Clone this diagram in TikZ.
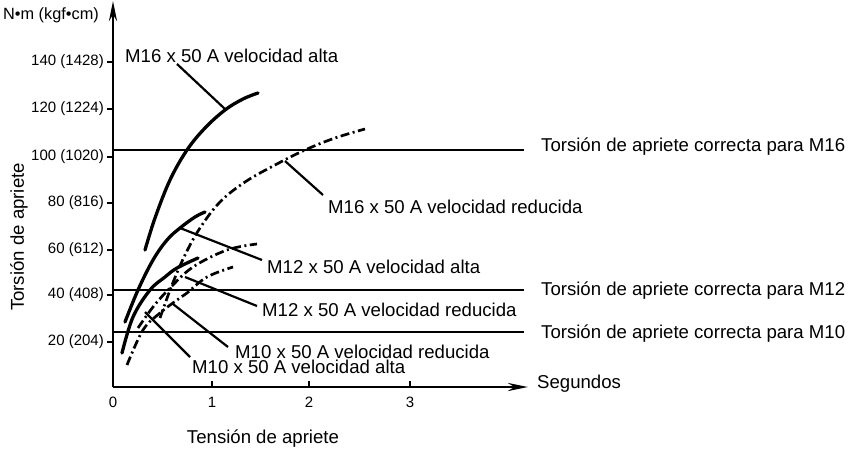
\documentclass[tikz,border=0pt]{standalone}
\usepackage{fontspec}
\setmainfont{Liberation Sans}
\usetikzlibrary{arrows.meta}
\begin{document}
\begin{tikzpicture}[x=1pt,y=-1pt,
 lbl/.style={inner sep=0pt,font=\fontsize{18.6}{22}\selectfont},
 ticklbl/.style={inner sep=0pt,font=\fontsize{15}{18}\selectfont},
 axis/.style={line width=2.9pt},
 refline/.style={line width=2.5pt},
 solidc/.style={line width=3.3pt,line cap=round},
 dashdotc/.style={line width=2.7pt,dash pattern=on 9pt off 3.5pt on 2pt off 3.5pt},
 leader/.style={line width=2.2pt},
 tickm/.style={line width=1.8pt}]
\useasboundingbox (0,0) rectangle (855,448);
\fill[white] (0,0) rectangle (855,448);
% axes
\coordinate (O) at (113,387);
\coordinate (ytop) at (113,1);
\coordinate (xend) at (528,387);
\draw[axis,-{Stealth[length=20pt,width=8pt]}] (O) -- (ytop);
\draw[axis,-{Stealth[length=20pt,width=8pt]}] (O) -- (xend);
\node[inner sep=0pt,font=\fontsize{16.3}{19}\selectfont,anchor=east] (unit) at (99,15) {N•m (kgf•cm)};
\node[lbl,anchor=west] (seg) at (537,384) {Segundos};
\node[lbl,rotate=90] (ytitle) at (19,237) {Torsión de apriete};
\node[lbl] (xtitle) at (263,439) {Tensión de apriete};
% y ticks
\foreach \yy/\t [count=\i] in {62/140 (1428),109/120 (1224),157/100 (1020),203/80 (816),250/60 (612),295/40 (408),342/20 (204)}{
  \draw[tickm] (107,\yy) -- (113,\yy);
  \node[ticklbl,anchor=east] (yl\i) at (104,\yy) {\t};
}
% x ticks
\foreach \xx/\t [count=\i] in {113/0,212/1,309/2,410/3}{
  \draw[tickm] (\xx,387) -- (\xx,381);
  \node[ticklbl] (xl\i) at (\xx,402) {\t};
}
% reference lines
\coordinate (r16a) at (113,150); \coordinate (r16b) at (524,150);
\coordinate (r12a) at (113,290); \coordinate (r12b) at (524,290);
\coordinate (r10a) at (113,332); \coordinate (r10b) at (524,332);
\draw[refline] (r16a) -- (r16b);
\draw[refline] (r12a) -- (r12b);
\draw[refline] (r10a) -- (r10b);
\node[lbl,anchor=west] (t16) at (541,147) {Torsión de apriete correcta para M16};
\node[lbl,anchor=west] (t12) at (541,291) {Torsión de apriete correcta para M12};
\node[lbl,anchor=west] (t10) at (541,334) {Torsión de apriete correcta para M10};
% curves
\draw[solidc] plot[smooth,tension=0.6] coordinates {(145,250) (155,218) (170,180) (187,150) (205,128) (225,110) (243,99) (258,93)};
\draw[dashdotc] plot[smooth,tension=0.6] coordinates {(160,318) (172,285) (185,255) (200,228) (220,202) (245,182) (275,165) (305,150) (335,138) (365,129)};
\draw[solidc] plot[smooth,tension=0.6] coordinates {(125,322) (138,290) (153,260) (167,240) (180,228) (195,217) (205,212)};
\draw[dashdotc] plot[smooth,tension=0.6] coordinates {(138,328) (153,307) (170,288) (193,267) (227,250) (257,244)};
\draw[solidc] plot[smooth,tension=0.6] coordinates {(122,353) (133,317) (150,290) (165,277) (177,268) (198,258)};
\draw[dashdotc] plot[smooth,tension=0.6] coordinates {(127,365) (143,330) (160,313) (177,300) (187,293) (207,277) (233,267)};
% labels and leaders
\node[lbl,anchor=west] (l16a) at (125,56) {M16 x 50 A velocidad alta};
\node[lbl,anchor=west] (l16r) at (328,207) {M16 x 50 A velocidad reducida};
\node[lbl,anchor=west] (l12a) at (267,267) {M12 x 50 A velocidad alta};
\node[lbl,anchor=west] (l12r) at (262,310) {M12 x 50 A velocidad reducida};
\node[lbl,anchor=west] (l10r) at (235,352) {M10 x 50 A velocidad reducida};
\node[lbl,anchor=west] (l10a) at (192,367) {M10 x 50 A velocidad alta};
\coordinate (c16a) at (225,109); \coordinate (e16a) at (177,64);
\coordinate (c16r) at (285,161); \coordinate (e16r) at (323,195);
\coordinate (c12a) at (180,228); \coordinate (e12a) at (262,260);
\coordinate (c12r) at (185,277); \coordinate (e12r) at (257,306);
\coordinate (c10r) at (173,304); \coordinate (e10r) at (228,347);
\coordinate (c10a) at (145,312); \coordinate (e10a) at (190,357);
\draw[leader] (c16a) -- (e16a);
\draw[leader] (c16r) -- (e16r);
\draw[leader] (c12a) -- (e12a);
\draw[leader] (c12r) -- (e12r);
\draw[leader] (c10r) -- (e10r);
\draw[leader] (c10a) -- (e10a);
\end{tikzpicture}
\end{document}
